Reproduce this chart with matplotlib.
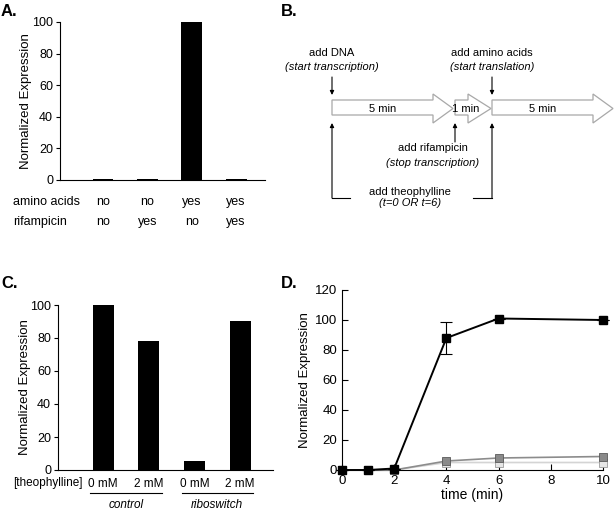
import numpy as np
import matplotlib
matplotlib.use('Agg')
import matplotlib.pyplot as plt
from matplotlib.patches import Polygon

plt.rcParams['font.family'] = 'Liberation Sans'

W, H = 616, 513

# ---- data ----
# panel A
a_values = [0.5, 0.5, 100, 0.5]
a_amino = ['no', 'no', 'yes', 'yes']
a_rif = ['no', 'yes', 'no', 'yes']

# panel B (schematic steps)
b_steps = ['5 min', '1 min', '5 min']

# panel C
c_values = [100, 78, 5.5, 90.5]
c_conc = ['0 mM', '2 mM', '0 mM', '2 mM']
c_groups = ['control', 'riboswitch']

# panel D
d_time = [0, 1, 2, 4, 6, 10]
d_ribo = [0, 0, 1, 88, 101, 100]
d_ribo_err = [0, 0, 0, 10.5, 0, 0]
d_dark = [0, 0, 0, 6, 8, 9]
d_light = [0, 0, 0, 5, 5, 5]


def px_axes(fig, x0, y0, x1, y1):
    # pixel box (top-left origin) -> figure axes
    return fig.add_axes([x0 / W, 1 - y1 / H, (x1 - x0) / W, (y1 - y0) / H])


fig = plt.figure(figsize=(W / 100, H / 100), dpi=100)

# ---------------- A ----------------
ax = px_axes(fig, 60, 22, 265, 180)
xa = np.arange(1, len(a_values) + 1)
ax.bar(xa, a_values, width=0.47, color='black')
ax.set_xlim(0.03, 4.65)
ax.set_ylim(0, 100)
ax.set_yticks([0, 20, 40, 60, 80, 100])
ax.set_xticks([])
ax.spines[['top', 'right']].set_visible(False)
ax.tick_params(axis='y', labelsize=9, length=3, direction='out', pad=2)
ax.set_ylabel('Normalized Expression', fontsize=9.5)
ax.yaxis.set_label_coords(-0.137, 0.5)
tr = ax.get_xaxis_transform()
for x, am, rf in zip(xa, a_amino, a_rif):
    ax.text(x, -0.139, am, transform=tr, ha='center', va='center', fontsize=9)
    ax.text(x, -0.266, rf, transform=tr, ha='center', va='center', fontsize=9)
fig.text(13 / W, 1 - 202 / H, 'amino acids', ha='left', va='center', fontsize=9)
fig.text(13 / W, 1 - 222 / H, 'rifampicin', ha='left', va='center', fontsize=9)
fig.text(1 / W, 1 - 12 / H, 'A.', ha='left', va='center', fontsize=12, fontweight='bold')

# ---------------- B ----------------
bx = px_axes(fig, 280, 0, 616, 260)
bx.set_xlim(280, 616)
bx.set_ylim(260, 0)
bx.axis('off')
fig.text(281 / W, 1 - 12 / H, 'B.', ha='left', va='center', fontsize=12, fontweight='bold')

arrows = [(332, 433, 453), (455, 468, 491), (492, 593, 613)]
for (x0, xh, xt), lab in zip(arrows, b_steps):
    pts = [(x0, 100), (xh, 100), (xh, 94), (xt, 108.5), (xh, 123), (xh, 115), (x0, 115)]
    bx.add_patch(Polygon(pts, closed=True, facecolor='white', edgecolor='#a8a8a8', lw=0.9))
    bx.text((x0 + xh) / 2 + (4 if lab == '1 min' else 0), 108.5, lab, ha='center', va='center', fontsize=8)

ap = dict(arrowstyle='-|>', color='black', lw=0.8, mutation_scale=6, shrinkA=0, shrinkB=0)
# down arrows
bx.annotate('', xy=(332, 95), xytext=(332, 77), arrowprops=ap)
bx.annotate('', xy=(492, 95), xytext=(492, 77), arrowprops=ap)
bx.text(332, 53, 'add DNA', ha='center', va='center', fontsize=8)
bx.text(332, 67, '(start transcription)', ha='center', va='center', fontsize=8, style='italic')
bx.text(492, 53, 'add amino acids', ha='center', va='center', fontsize=8)
bx.text(492, 67, '(start translation)', ha='center', va='center', fontsize=8, style='italic')
# rifampicin
bx.annotate('', xy=(455, 123), xytext=(455, 142), arrowprops=ap)
bx.text(433, 148, 'add rifampicin', ha='center', va='center', fontsize=8)
bx.text(433, 163, '(stop transcription)', ha='center', va='center', fontsize=8, style='italic')
# theophylline bracket
bx.annotate('', xy=(332, 123), xytext=(332, 198), arrowprops=ap)
bx.annotate('', xy=(492, 123), xytext=(492, 198), arrowprops=ap)
bx.plot([332, 350], [198, 198], color='black', lw=0.8)
bx.plot([473, 492], [198, 198], color='black', lw=0.8)
bx.text(410, 192, 'add theophylline', ha='center', va='center', fontsize=8)
bx.text(410, 203, '(t=0 OR t=6)', ha='center', va='center', fontsize=8, style='italic')

# ---------------- C ----------------
cx = px_axes(fig, 58, 305, 273, 470)
xc = np.arange(1, len(c_values) + 1)
cx.bar(xc, c_values, width=0.46, color='black')
cx.set_xlim(0.015, 4.72)
cx.set_ylim(0, 100)
cx.set_yticks([0, 20, 40, 60, 80, 100])
cx.set_xticks(xc)
cx.set_xticklabels(c_conc)
cx.spines[['top', 'right']].set_visible(False)
cx.tick_params(axis='y', labelsize=9, length=3, direction='out', pad=2)
cx.tick_params(axis='x', labelsize=8.5, length=0, pad=6)
cx.set_ylabel('Normalized Expression', fontsize=9.5)
cx.yaxis.set_label_coords(-0.126, 0.5)
trc = cx.get_xaxis_transform()
for i, g in enumerate(c_groups):
    mid = (xc[2 * i] + xc[2 * i + 1]) / 2
    cx.plot([mid - 0.78, mid + 0.78], [-0.139, -0.139], transform=trc, color='black', lw=0.8, clip_on=False)
    cx.text(mid, -0.212, g, transform=trc, ha='center', va='center', fontsize=8.5, style='italic')
fig.text(13 / W, 1 - 483 / H, '[theophylline]', ha='left', va='center', fontsize=8.5)
fig.text(1 / W, 1 - 283 / H, 'C.', ha='left', va='center', fontsize=12, fontweight='bold')

# ---------------- D ----------------
dx = px_axes(fig, 342, 290, 603, 470)
dx.plot(d_time, d_light, color='#d4d4d4', lw=1.2, marker='s', ms=5.5,
        mfc='#e6e6e6', mec='#9a9a9a', mew=0.6, clip_on=False, zorder=2)
dx.plot(d_time, d_dark, color='#8c8c8c', lw=1.2, marker='s', ms=5.5,
        mfc='#8a8a8a', mec='#5a5a5a', mew=0.6, clip_on=False, zorder=3)
dx.errorbar(d_time, d_ribo, yerr=d_ribo_err, color='black', lw=1.4, marker='s', ms=5.5,
            mfc='black', mec='black', capsize=4, elinewidth=0.8, capthick=0.8,
            clip_on=False, zorder=4)
dx.set_xlim(0, 10)
dx.set_ylim(0, 120)
dx.set_xticks([0, 2, 4, 6, 8, 10])
dx.set_yticks([0, 20, 40, 60, 80, 100, 120])
dx.spines[['top', 'right']].set_visible(False)
dx.tick_params(labelsize=9.5, length=4, direction='in')
dx.set_xlabel('time (min)', fontsize=10, labelpad=1)
dx.set_ylabel('Normalized Expression', fontsize=9.5)
dx.yaxis.set_label_coords(-0.119, 0.5)
fig.text(281 / W, 1 - 283 / H, 'D.', ha='left', va='center', fontsize=12, fontweight='bold')

fig.savefig('out.png', dpi=100)
